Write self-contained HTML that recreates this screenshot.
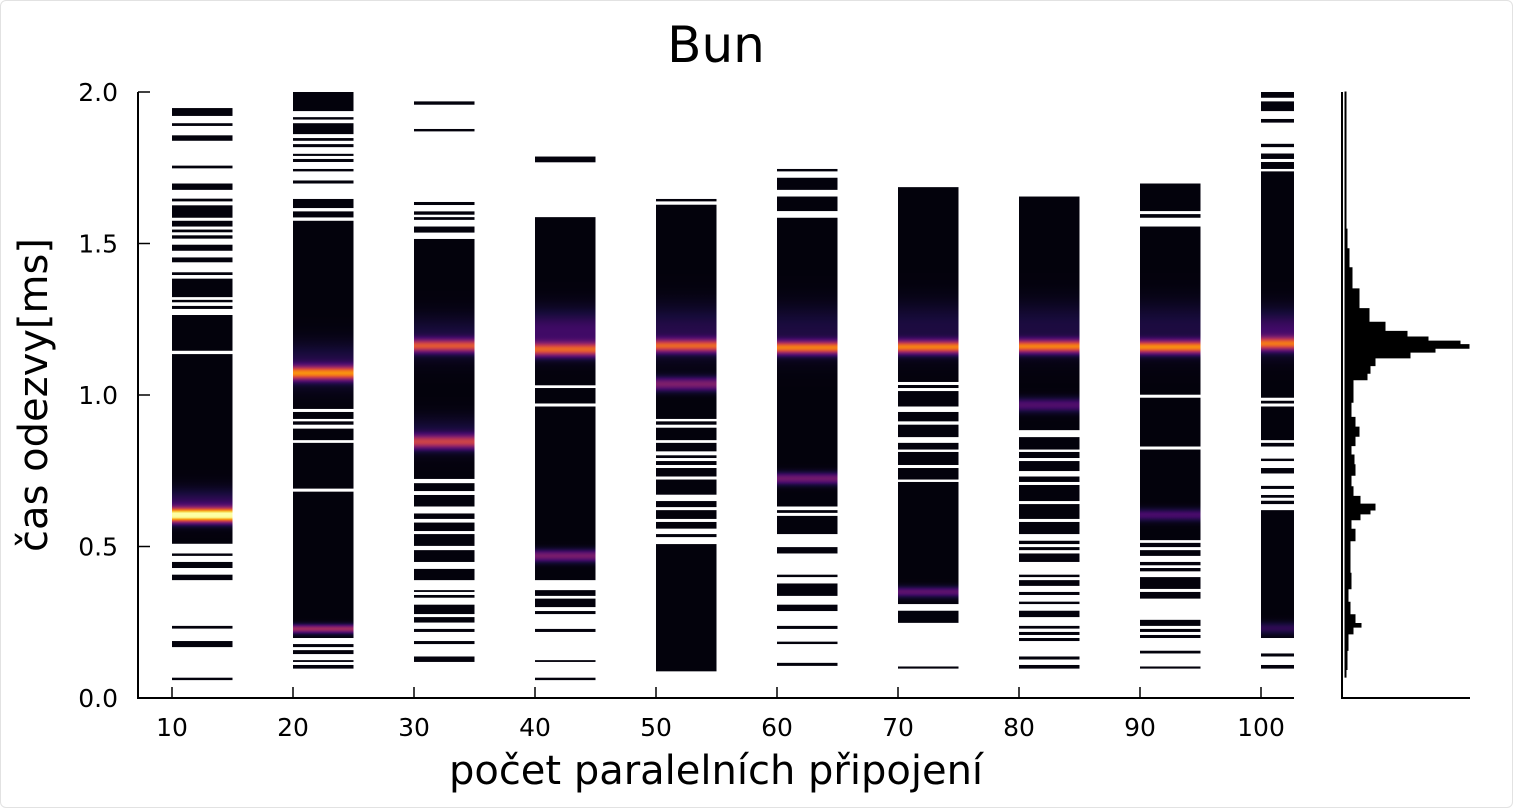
<!DOCTYPE html>
<html><head><meta charset="utf-8">
<style>
html,body{margin:0;padding:0;background:#fff;}
body{width:1514px;height:809px;overflow:hidden;font-family:"DejaVu Sans","Liberation Sans",sans-serif;}
#frame{position:absolute;left:0;top:0;width:1511px;height:806px;border:1px solid #e2e2e2;border-radius:6px;}
</style></head>
<body>
<div id="frame"></div>
<svg id="chart" width="1514" height="809" style="position:absolute;left:0;top:0" font-family="DejaVu Sans, Liberation Sans, sans-serif">
  <defs id="defs"></defs>
  <text x="716" y="62" font-size="50" text-anchor="middle" fill="#000">Bun</text>
  <g id="cols"></g>
  <g id="hist"></g>
  <g id="axes"></g>
  <text x="716" y="784" font-size="40" text-anchor="middle" fill="#000">počet paralelních připojení</text>
  <text transform="translate(47,395) rotate(-90)" font-size="40" text-anchor="middle" fill="#000">čas odezvy[ms]</text>
</svg>
<script>
// ---- data ----
const categories = [10,20,30,40,50,60,70,80,90,100];
const segments10 = [[1.921,1.947],[1.888,1.897],[1.839,1.857],[1.748,1.757],[1.677,1.698],[1.639,1.648],[1.585,1.626],[1.556,1.575],[1.537,1.546],[1.516,1.527],[1.476,1.496],[1.438,1.454],[1.396,1.405],[1.323,1.384],[1.306,1.314],[1.284,1.294],[1.146,1.264],[0.509,1.135],[0.469,0.477],[0.429,0.449],[0.389,0.407],[0.229,0.238],[0.168,0.188],[0.059,0.067]];
const segments20 = [[1.937,2.0],[1.909,1.917],[1.861,1.897],[1.839,1.848],[1.818,1.828],[1.789,1.796],[1.769,1.779],[1.738,1.746],[1.698,1.708],[1.617,1.647],[1.586,1.606],[0.954,1.575],[0.921,0.944],[0.902,0.913],[0.851,0.889],[0.691,0.842],[0.198,0.681],[0.168,0.178],[0.145,0.158],[0.119,0.125],[0.097,0.109]];
const segments30 = [[1.958,1.969],[1.870,1.878],[1.627,1.637],[1.595,1.606],[1.578,1.587],[1.536,1.556],[0.723,1.515],[0.683,0.709],[0.632,0.670],[0.591,0.609],[0.551,0.579],[0.502,0.541],[0.449,0.488],[0.389,0.426],[0.350,0.356],[0.331,0.340],[0.277,0.308],[0.249,0.267],[0.218,0.228],[0.178,0.188],[0.119,0.137]];
const segments40 = [[1.768,1.787],[1.032,1.587],[0.972,1.023],[0.389,0.962],[0.337,0.356],[0.300,0.328],[0.277,0.287],[0.218,0.228],[0.119,0.125],[0.059,0.067]];
const segments50 = [[1.639,1.647],[0.921,1.628],[0.902,0.913],[0.851,0.892],[0.814,0.842],[0.792,0.801],[0.769,0.782],[0.731,0.759],[0.671,0.721],[0.630,0.650],[0.591,0.620],[0.559,0.581],[0.531,0.541],[0.088,0.508]];
const segments60 = [[1.738,1.746],[1.677,1.717],[1.607,1.655],[0.632,1.585],[0.611,0.620],[0.541,0.601],[0.477,0.498],[0.399,0.407],[0.337,0.378],[0.287,0.308],[0.228,0.238],[0.178,0.186],[0.106,0.116]];
const segments70 = [[1.043,1.686],[1.023,1.033],[0.962,1.013],[0.913,0.944],[0.861,0.902],[0.820,0.842],[0.769,0.812],[0.721,0.759],[0.310,0.713],[0.248,0.288],[0.097,0.104]];
const segments80 = [[0.884,1.655],[0.820,0.861],[0.792,0.812],[0.749,0.782],[0.713,0.731],[0.650,0.703],[0.591,0.640],[0.541,0.581],[0.508,0.519],[0.488,0.498],[0.449,0.477],[0.399,0.407],[0.370,0.389],[0.340,0.350],[0.310,0.318],[0.267,0.288],[0.229,0.238],[0.208,0.218],[0.188,0.198],[0.127,0.137],[0.097,0.109]];
const segments90 = [[1.607,1.698],[1.585,1.597],[1.001,1.556],[0.830,0.991],[0.521,0.820],[0.498,0.512],[0.469,0.488],[0.438,0.449],[0.418,0.429],[0.360,0.399],[0.328,0.350],[0.238,0.258],[0.218,0.228],[0.198,0.208],[0.147,0.156],[0.097,0.104]];
const segments100 = [[1.981,2.0],[1.937,1.969],[1.899,1.911],[1.818,1.829],[1.779,1.797],[1.746,1.769],[0.991,1.738],[0.972,0.981],[0.851,0.962],[0.830,0.842],[0.782,0.790],[0.741,0.759],[0.690,0.700],[0.661,0.670],[0.640,0.651],[0.198,0.620],[0.137,0.147],[0.097,0.109]];
const allSegments = [segments10,segments20,segments30,segments40,segments50,segments60,segments70,segments80,segments90,segments100];
// peaks: [center ms, intensity 0..1, sigma ms]
const peaks10 = [[0.603,1.0,0.016],[0.64,0.15,0.035]];
const peaks20 = [[1.072,0.64,0.016],[1.10,0.12,0.05],[0.228,0.42,0.01]];
const peaks30 = [[1.162,0.52,0.015],[1.19,0.1,0.05],[0.845,0.45,0.016],[0.87,0.1,0.04]];
const peaks40 = [[1.150,0.56,0.016],[1.21,0.18,0.05],[0.469,0.32,0.014]];
const peaks50 = [[1.162,0.56,0.015],[1.21,0.12,0.06],[1.036,0.33,0.016]];
const peaks60 = [[1.156,0.64,0.015],[1.21,0.1,0.06],[0.724,0.3,0.014]];
const peaks70 = [[1.158,0.65,0.015],[1.22,0.1,0.06],[0.350,0.25,0.012]];
const peaks80 = [[1.160,0.65,0.015],[1.22,0.1,0.06],[0.967,0.22,0.016]];
const peaks90 = [[1.158,0.68,0.015],[1.22,0.1,0.06],[0.604,0.2,0.014]];
const peaks100 = [[1.169,0.56,0.015],[1.21,0.18,0.05],[0.230,0.14,0.014]];
const allPeaks = [peaks10,peaks20,peaks30,peaks40,peaks50,peaks60,peaks70,peaks80,peaks90,peaks100];
const histValues = [2.0,1.58,1.515,1.45,1.39,1.31,1.26,1.22,1.2,1.183,1.173,1.16,1.148,1.135,1.11,1.084,1.06,1.04,1.008,0.944,0.908,0.88,0.848,0.818,0.786,0.754,0.716,0.678,0.653,0.627,0.614,0.601,0.576,0.538,0.5,0.437,0.386,0.335,0.297,0.252,0.24,0.228,0.195,0.119,0.069];
const histCounts = [1,1,2,4,7,14,24,40,62,83,115,124,90,65,30,25,22,8,8,6,10,14,10,6,9,10,6,8,15,30,25,15,6,10,5,5,6,3,5,10,16,8,3,2,1];
const yTicks = [0.0,0.5,1.0,1.5,2.0];
const yTickLabels = ["0.0","0.5","1.0","1.5","2.0"];
const xTicks = [10,20,30,40,50,60,70,80,90,100];
const xTickLabels = ["10","20","30","40","50","60","70","80","90","100"];

// ---- scales ----
const PL=138, PR=1294, PT=92, PB=698;
const ys = v => PB - v*(PB-PT)/2.0;
const xs = v => 172 + (v-10)*(1261-172)/90;
const binW = 5;
const NS='http://www.w3.org/2000/svg';
const inf = ['#000004','#160b39','#420a68','#6a176e','#932667','#bc3754','#dd513a','#f37819','#fca50a','#f6d746','#fcffa4'];
function hex(h){return [1,3,5].map(i=>parseInt(h.substr(i,2),16));}
function cmap(t){t=Math.max(0,Math.min(1,t));const p=t*10,i=Math.min(9,Math.floor(p)),f=p-i;const a=hex(inf[i]),b=hex(inf[i+1]);return 'rgb('+a.map((c,k)=>Math.round(c+(b[k]-c)*f)).join(',')+')';}
function mk(tag,attrs,parent){const e=document.createElementNS(NS,tag);for(const k in attrs)e.setAttribute(k,attrs[k]);parent.appendChild(e);return e;}

const defs=document.getElementById('defs');
const colsG=document.getElementById('cols');
const clip=mk('clipPath',{id:'plotclip'},defs);
mk('rect',{x:PL,y:PT-2,width:PR-PL,height:PB-PT+2},clip);
colsG.setAttribute('clip-path','url(#plotclip)');

categories.forEach((c,ci)=>{
  const gid='grad'+ci;
  const g=mk('linearGradient',{id:gid,gradientUnits:'userSpaceOnUse',x1:0,y1:ys(2.0),x2:0,y2:ys(0)},defs);
  const N=400;
  for(let i=0;i<=N;i++){
    const v=2.0-2.0*i/N;
    let t=0.015;
    allPeaks[ci].forEach(p=>{t+=p[1]*Math.exp(-0.5*Math.pow((v-p[0])/p[2],2));});
    mk('stop',{offset:(i/N).toFixed(4),'stop-color':cmap(t)},g);
  }
  const col=mk('g',{},colsG);
  
  
  allSegments[ci].forEach(s=>{
    const r=mk('rect',{x:xs(c).toFixed(2),y:ys(s[1]).toFixed(2),width:(xs(c+binW)-xs(c)).toFixed(2),height:Math.max(1.5,ys(s[0])-ys(s[1])).toFixed(2),fill:'url(#'+gid+')'},col);
    
    
  });
});

// histogram
const histG=document.getElementById('hist');
const HX=1345, hscale=1.0;
let d='M'+HX+','+ys(histValues[0]);
for(let i=0;i<histValues.length;i++){
  const top = i===0?histValues[0]:(histValues[i-1]+histValues[i])/2;
  const bot = i===histValues.length-1?histValues[i]:(histValues[i]+histValues[i+1])/2;
  const w=HX+histCounts[i]*hscale;
  d+=' L'+w.toFixed(1)+','+ys(top).toFixed(1)+' L'+w.toFixed(1)+','+ys(bot).toFixed(1);
}
d+=' L'+HX+','+ys(histValues[histValues.length-1])+' Z';
const hp=mk('path',{d:d,fill:'#000',stroke:'#000','stroke-width':1},histG);



// axes
const ax=document.getElementById('axes');
const ls={stroke:'#000','stroke-width':2};
const yl=mk('line',Object.assign({x1:PL,y1:PT,x2:PL,y2:PB+1},ls),ax);


const xl=mk('line',Object.assign({x1:PL-1,y1:PB,x2:PR,y2:PB},ls),ax);


yTicks.forEach((v,i)=>{
  mk('line',{x1:PL,y1:ys(v),x2:PL+12,y2:ys(v),stroke:'#000','stroke-width':1.5},ax);
  const t=mk('text',{x:PL-20,y:ys(v)+9,'font-size':25,'text-anchor':'end',fill:'#000'},ax);
  t.textContent=yTickLabels[i];
  
  
});
xTicks.forEach((v,i)=>{
  mk('line',{x1:xs(v),y1:PB,x2:xs(v),y2:PB-11,stroke:'#000','stroke-width':1.5},ax);
  const t=mk('text',{x:xs(v),y:PB+38,'font-size':25,'text-anchor':'middle',fill:'#000'},ax);
  t.textContent=xTickLabels[i];
  
  
});
const hl=mk('line',Object.assign({x1:1342,y1:PT,x2:1342,y2:PB+1},ls),ax);


const hb=mk('line',Object.assign({x1:1341,y1:PB,x2:1470,y2:PB},ls),ax);


</script>
</body></html>
